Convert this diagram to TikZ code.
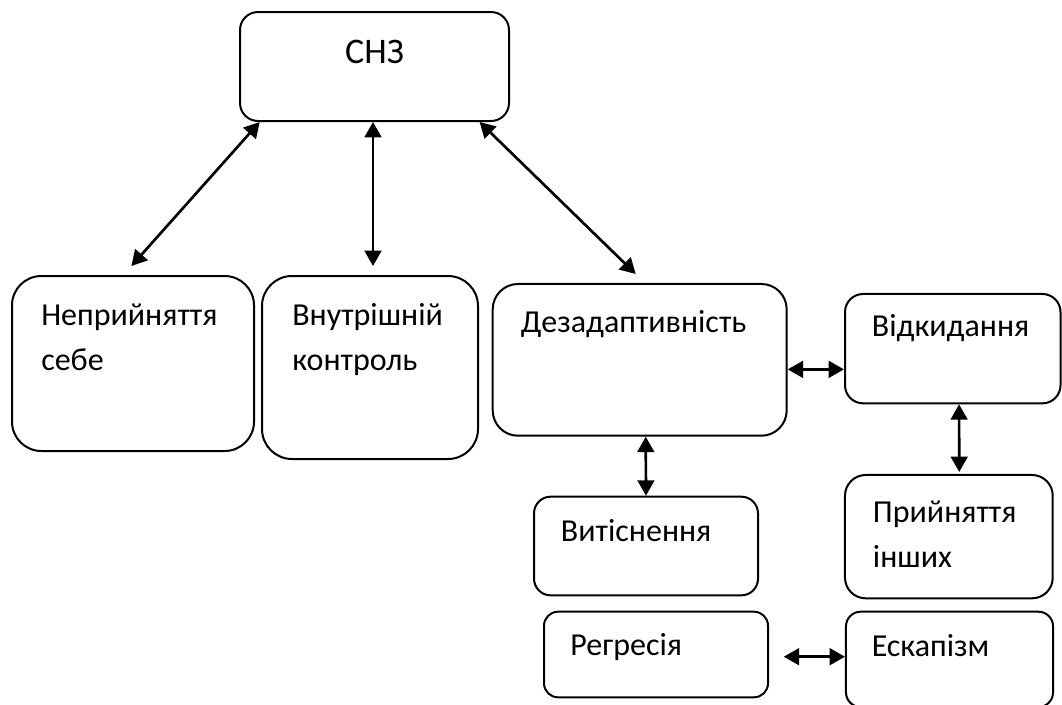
\documentclass[tikz,border=0pt]{standalone}
\usepackage{fontspec}
\setmainfont{Carlito}
\usetikzlibrary{arrows.meta,calc}

\begin{document}
\begin{tikzpicture}[x=0.75pt,y=-0.75pt,
  font=\fontsize{24}{33.2}\selectfont,
  box/.style={draw,line width=1.5pt,inner sep=0pt},
  lbl/.style={anchor=base west,align=left,inner sep=0pt},
  arr/.style={{Triangle[length=11.5pt,width=12.5pt]}-{Triangle[length=11.5pt,width=12.5pt]},line width=2pt}
]
\useasboundingbox (0,0) rectangle (1062,704);

\node[box,rounded corners=13.5pt,minimum width=201.75pt,minimum height=81.75pt] (snz) at (374.5,66.5) {};
\node[box,rounded corners=22pt,minimum width=181.5pt,minimum height=131.25pt] (nepr) at (133,363.5) {};
\node[box,rounded corners=22.5pt,minimum width=162pt,minimum height=137.25pt] (vnut) at (370,367.5) {};
\node[box,rounded corners=19pt,minimum width=220.5pt,minimum height=113.8pt] (dez) at (639.7,359.85) {};
\node[box,rounded corners=13.5pt,minimum width=161.6pt,minimum height=82pt] (vidk) at (952.75,348.65) {};
\node[box,rounded corners=12.5pt,minimum width=168pt,minimum height=74pt] (vyt) at (646,546) {};
\node[box,rounded corners=15.5pt,minimum width=155.8pt,minimum height=92.5pt] (pryin) at (948.85,536.65) {};
\node[box,rounded corners=10.5pt,minimum width=168pt,minimum height=64.2pt] (regr) at (656,654.5) {};
\node[box,rounded corners=11pt,minimum width=155.3pt,minimum height=71.5pt] (esk) at (949.5,659.35) {};

\node[anchor=base,inner sep=0pt,font=\fontsize{27}{30}\selectfont] (snz-t) at (374.5,63.3) {СНЗ};
\node[lbl] (nepr-t) at (41,370) {Неприйняття\\себе};
\node[lbl] (vnut-t) at (292,370) {Внутрішній\\контроль};
\node[lbl] (dez-t) at (520.7,332.7) {Дезадаптивність};
\node[lbl] (vidk-t) at (871.7,336.7) {Відкидання};
\node[lbl] (vyt-t) at (560.7,541.7) {Витіснення};
\node[lbl] (pryin-t) at (872.7,567) {Прийняття\\інших};
\node[lbl] (regr-t) at (570,655) {Регресія};
\node[lbl] (esk-t) at (871.7,656.7) {Ескапізм};

\draw[arr] ($(snz.south west)+(20.7,0)$) -- ($(nepr.north)+(-1.6,-9)$);
\draw[arr] ($(snz.south)+(-1.5,0)$) -- ($(vnut.north)+(3,-9)$);
\draw[arr] ($(snz.south east)+(-30.4,0)$) -- ($(dez.north)+(-4,-9)$);
\draw[arr] ($(dez.east)+(0,9.5)$) coordinate (d1) -- (d1 -| vidk.west);
\draw[arr] ($(vidk.south)+(6.3,0)$) -- ($(pryin.north)+(10.4,-2)$);
\draw[arr] ($(dez.south)+(6,0)$) -- (vyt.north);
\draw[arr] ($(regr.east)+(14.7,2.2)$) coordinate (r1) -- (r1 -| esk.west);
\end{tikzpicture}
\end{document}
